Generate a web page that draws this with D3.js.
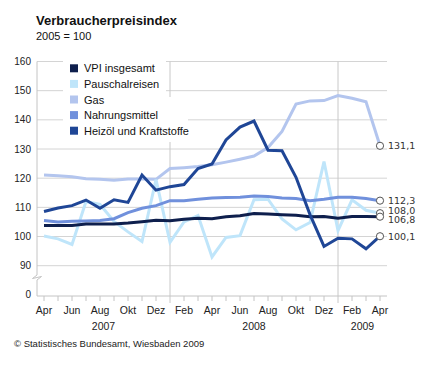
<!DOCTYPE html>
<html>
<head>
<meta charset="utf-8">
<script src="https://cdn.jsdelivr.net/npm/d3@7"></script>
<style>
  body { margin: 0; background: #fff; }
  svg { display: block; font-family: "Liberation Sans", Arial, sans-serif; }
</style>
</head>
<body>
<script>
// Monate Apr 2007 bis Apr 2009
const months = ['Apr','Mai','Jun','Jul','Aug','Sep','Okt','Nov','Dez',
                'Jan','Feb','Mär','Apr','Mai','Jun','Jul','Aug','Sep','Okt','Nov','Dez',
                'Jan','Feb','Mär','Apr'];
const years = ['2007','2008','2009'];
const yearStart = [0, 9, 21]; // Index des ersten Monats im Jahr
const yTicks = [90, 100, 110, 120, 130, 140, 150, 160];

const seriesNames = ['VPI insgesamt','Pauschalreisen','Gas','Nahrungsmittel','Heizöl und Kraftstoffe'];
const seriesColors = ['#0e1f4d','#bfe5fa','#b3c5ee','#7090dc','#1f4696'];

const vpi = [103.8,103.8,103.8,104.3,104.3,104.3,104.6,105.1,105.6,
             105.4,105.9,106.3,106.1,106.8,107.1,107.9,107.7,107.5,107.3,106.8,106.9,
             106.3,106.9,106.9,106.8];
const pauschal = [100.2,99.2,97.3,112.0,111.0,105.2,101.6,98.3,119.5,
                  98.0,105.0,107.2,93.0,99.7,100.3,112.6,112.8,106.0,102.3,104.8,125.7,
                  102.0,112.6,109.0,108.0];
const gas = [121.1,120.8,120.5,119.8,119.6,119.3,119.7,119.7,119.6,
             123.3,123.6,124.0,124.6,125.5,126.5,127.6,130.5,136.0,145.4,146.5,146.6,
             148.3,147.4,146.2,131.1];
const nahrung = [105.5,105.0,105.2,105.3,105.5,106.1,108.2,109.7,110.6,
                 112.3,112.3,112.8,113.2,113.4,113.5,113.9,113.7,113.2,113.0,112.3,112.8,
                 113.5,113.5,113.0,112.3];
const heizoel = [108.6,109.8,110.6,112.5,109.7,112.6,111.7,121.1,115.9,
                 117.1,117.8,123.3,124.9,133.1,137.5,139.6,129.6,129.4,120.3,107.5,96.6,
                 99.4,99.2,95.8,100.1];

const seriesData = [vpi, pauschal, gas, nahrung, heizoel];
const drawOrder = [2, 1, 3, 0, 4]; // Gas hinten, Heizöl vorne

const width = 430, height = 371;
const left = 37, right = 387;

const svg = d3.select('body').append('svg')
   .attr('width', width)
   .attr('height', height);

const x = d3.scalePoint()
   .domain(d3.range(months.length))
   .range([left, right])
   .padding(0.5);

const y = d3.scaleLinear()
   .domain([90, 160])
   .range([265.7, 61.5]);

const yZero = 296;

// Titel
svg.append('text')
   .attr('x', 36).attr('y', 25)
   .attr('font-size', 13).attr('font-weight', 'bold').attr('fill', '#111')
   .text('Verbraucherpreisindex');
svg.append('text')
   .attr('x', 36).attr('y', 40)
   .attr('font-size', 11).attr('fill', '#111')
   .text('2005 = 100');

// Gitterlinien
svg.append('g').selectAll('line')
   .data(yTicks)
   .enter().append('line')
   .attr('x1', left).attr('x2', right)
   .attr('y1', (d) => y(d)).attr('y2', (d) => y(d))
   .attr('stroke', '#d4d4d4').attr('stroke-width', 1);

// Jahrestrenner
svg.append('g').selectAll('line')
   .data(yearStart.slice(1))
   .enter().append('line')
   .attr('x1', (d) => x(d)).attr('x2', (d) => x(d))
   .attr('y1', y(160)).attr('y2', yZero + 7)
   .attr('stroke', '#c8c8c8').attr('stroke-width', 1);

// y-Achse mit Bruch
svg.append('path')
   .attr('d', 'M' + left + ',' + y(160) + ' L' + left + ',275 L32.5,278.5 L41.5,276.5 L' + left + ',280 L' + left + ',' + yZero)
   .attr('fill', 'none').attr('stroke', '#c4c4c4').attr('stroke-width', 1);

svg.append('g').selectAll('text')
   .data(yTicks)
   .enter().append('text')
   .attr('x', 31).attr('y', (d) => y(d) + 3.5)
   .attr('text-anchor', 'end').attr('font-size', 10).attr('fill', '#222')
   .text((d) => d);
svg.append('text')
   .attr('x', 31).attr('y', yZero + 1.5)
   .attr('text-anchor', 'end').attr('font-size', 10).attr('fill', '#222')
   .text('0');

// x-Achse
svg.append('line')
   .attr('x1', left).attr('x2', right)
   .attr('y1', yZero).attr('y2', yZero)
   .attr('stroke', '#c4c4c4');
svg.append('g').selectAll('line')
   .data(d3.range(months.length).filter((i) => yearStart.indexOf(i) < 1))
   .enter().append('line')
   .attr('x1', (d) => x(d)).attr('x2', (d) => x(d))
   .attr('y1', yZero).attr('y2', yZero + 5)
   .attr('stroke', '#c4c4c4');
svg.append('g').selectAll('text')
   .data(d3.range(0, months.length, 2))
   .enter().append('text')
   .attr('x', (d) => x(d)).attr('y', 314)
   .attr('text-anchor', 'middle').attr('font-size', 10.5).attr('fill', '#222')
   .text((d) => months[d]);

const yearEdges = [left, x(yearStart[1]), x(yearStart[2]), right];
svg.append('g').selectAll('text')
   .data(years)
   .enter().append('text')
   .attr('x', (d, i) => (yearEdges[i] + yearEdges[i + 1]) / 2).attr('y', 330)
   .attr('text-anchor', 'middle').attr('font-size', 10.5).attr('fill', '#222')
   .text((d) => d);

// Legende mit weißem Hintergrund
const legend = svg.append('g');
legend.append('rect').attr('x', 63).attr('y', 61).attr('width', 103).attr('height', 36).attr('fill', '#fff');
legend.append('rect').attr('x', 63).attr('y', 97).attr('width', 125).attr('height', 45).attr('fill', '#fff');
seriesNames.forEach((name, i) => {
   const cy = 68.3 + i * 15.6;
   legend.append('rect')
      .attr('x', 70).attr('y', cy - 4).attr('width', 8).attr('height', 8)
      .attr('fill', seriesColors[i]);
   legend.append('text')
      .attr('x', 84).attr('y', cy + 4)
      .attr('font-size', 11).attr('fill', '#111')
      .text(name);
});

// Linien
const line = d3.line()
   .x((d, i) => x(i))
   .y((d) => y(d));

svg.append('g').selectAll('path')
   .data(drawOrder)
   .enter().append('path')
   .attr('d', (k) => line(seriesData[k]))
   .attr('fill', 'none')
   .attr('stroke', (k) => seriesColors[k])
   .attr('stroke-width', 3);

// Endwerte
const last = months.length - 1;
const labelShift = [3, -3, 0, 0, 0];
const fmt = (v) => d3.format('.1f')(v).replace('.', ',');

svg.append('g').selectAll('circle')
   .data(drawOrder)
   .enter().append('circle')
   .attr('cx', x(last)).attr('cy', (k) => y(seriesData[k][last]))
   .attr('r', 3.6)
   .attr('fill', '#fff').attr('stroke', '#555').attr('stroke-width', 1);

svg.append('g').selectAll('text')
   .data(drawOrder)
   .enter().append('text')
   .attr('x', x(last) + 8).attr('y', (k) => y(seriesData[k][last]) + labelShift[k] + 3.5)
   .attr('font-family', '"DejaVu Sans", sans-serif')
   .attr('font-size', 9.5).attr('fill', '#333')
   .text((k) => fmt(seriesData[k][last]));

// Quelle
svg.append('text')
   .attr('x', 14).attr('y', 347)
   .attr('font-size', 9.5).attr('fill', '#222')
   .text('© Statistisches Bundesamt, Wiesbaden 2009');
</script>
</body>
</html>
